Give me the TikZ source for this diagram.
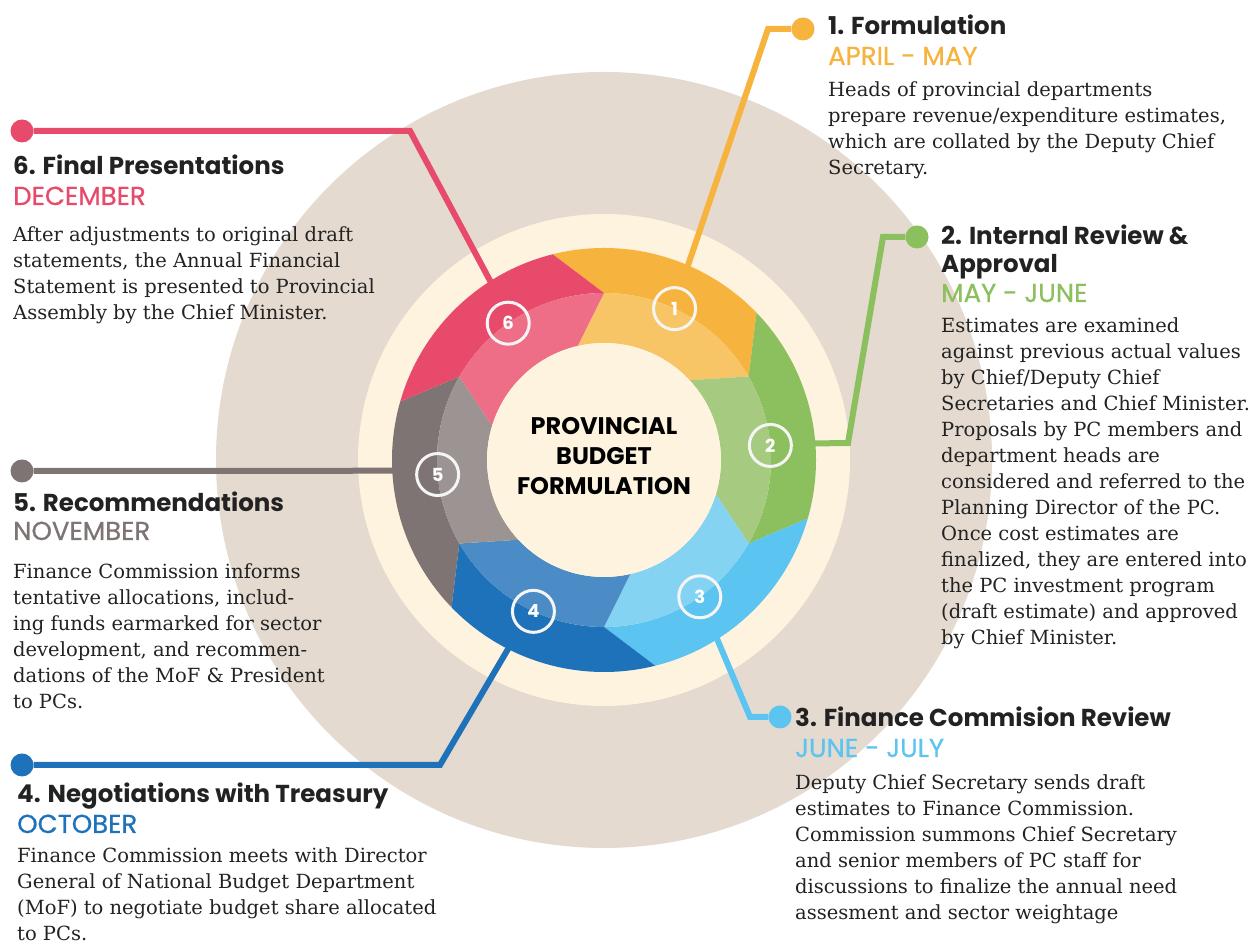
\documentclass[tikz,border=0pt]{standalone}
\usepackage{fontspec}
\setmainfont{DejaVu Serif}
\newfontfamily\headfont{Poppins}
\newfontfamily\monthfont[FakeBold=0.7]{Poppins}
\usetikzlibrary{calc}
\definecolor{beige}{HTML}{E4DAD0}
\definecolor{cream}{HTML}{FDF3DE}
\definecolor{ink}{HTML}{222222}
\definecolor{yelD}{HTML}{F6B43E}
\definecolor{yelL}{HTML}{F8C566}
\definecolor{grnD}{HTML}{8CBF5E}
\definecolor{grnL}{HTML}{A6CA80}
\definecolor{skyD}{HTML}{5BC4F1}
\definecolor{skyL}{HTML}{84D3F3}
\definecolor{bluD}{HTML}{1E72BA}
\definecolor{bluL}{HTML}{4B8CC6}
\definecolor{gryD}{HTML}{7E7474}
\definecolor{gryL}{HTML}{9C9393}
\definecolor{pnkD}{HTML}{E84A6B}
\definecolor{pnkL}{HTML}{EE6E88}

\begin{document}
\begin{tikzpicture}[x=1pt,y=1pt,
  wire/.style={line width=6pt,line join=miter},
  dot/.style={circle,inner sep=0pt,minimum size=23pt},
  num/.style={circle,draw=white!92!gray,line width=3pt,minimum size=42pt,inner sep=0pt,text=white,font=\headfont\bfseries\fontsize{18}{18}\selectfont},
  title/.style={anchor=base west,inner sep=0pt,align=left,text=ink,font=\headfont\bfseries\fontsize{24.5}{28}\selectfont},
  month/.style={anchor=base west,inner sep=0pt,font=\monthfont\fontsize{26}{26}\selectfont},
  body/.style={anchor=base west,inner sep=0pt,align=left,text=ink,font=\fontsize{19.5}{26}\selectfont}]
	\fill[white] (0,0) rectangle (1254,949);
	\useasboundingbox (0,0) rectangle (1254,949);
	\coordinate (c) at (604,489);
	\fill[beige] (c) circle[radius=388];
	\fill[cream] (c) circle[radius=246];

	\node(d1)[dot,fill=yelD] at (803,920) {};
	\coordinate (b1) at (768,920);
	\coordinate (e1) at ($(c)+(66.5:205)$);
	\node(d2)[dot,fill=grnD] at (917,712) {};
	\coordinate (b2) at (883,712);
	\coordinate (k2) at (848,506);
	\coordinate (e2) at ($(c)+(4.6:205)$);
	\node(d3)[dot,fill=skyD] at (780,232) {};
	\coordinate (b3) at (750,232);
	\coordinate (e3) at ($(c)+(-57.4:205)$);
	\node(d4)[dot,fill=bluD] at (22,184) {};
	\coordinate (b4) at (440,184);
	\coordinate (e4) at ($(c)+(-116.8:205)$);
	\node(d5)[dot,fill=gryD] at (22,478) {};
	\coordinate (e5) at ($(c)+(-177:205)$);
	\node(d6)[dot,fill=pnkD] at (22,818) {};
	\coordinate (b6) at (410,818);
	\coordinate (e6) at ($(c)+(122.6:205)$);

	\draw[wire,yelD] (d1) -- (b1) -- (e1);
	\draw[wire,grnD] (d2) -- (b2) -- (k2) -- (e2);
	\draw[wire,skyD] (d3) -- (b3) -- (e3);
	\draw[wire,bluD] (d4) -- (b4) -- (e4);
	\draw[wire,gryD] (d5) -- (e5);
	\draw[wire,pnkD] (d6) -- (b6) -- (e6);

	\foreach \i/\dk/\lt [evaluate=\i as \t using 90-60*(\i-1)] in
	  {1/yelD/yelL,2/grnD/grnL,3/skyD/skyL,4/bluD/bluL,5/gryD/gryL,6/pnkD/pnkL}{
	  \fill[\dk] ($(c)+(\t+14:212)$) arc[start angle=\t+14,end angle=\t-46,radius=212]
	    -- ($(c)+(\t-60:167)$) arc[start angle=\t-60,end angle=\t,radius=167] -- cycle;
	  \fill[\lt] ($(c)+(\t:167)$) arc[start angle=\t,end angle=\t-60,radius=167]
	    -- ($(c)+(\t-47:117)$) arc[start angle=\t-47,end angle=\t+13,radius=117] -- cycle;
	  \node(n\i)[num] at ($(c)+(\t-25:167)$) {\i};
	}
	\fill[cream] (c) circle[radius=117];
	\node(ctr)[align=center,text=black,font=\headfont\bfseries\fontsize{24}{30}\selectfont]
	  at ([yshift=4pt]c) {PROVINCIAL\\BUDGET\\FORMULATION};

	\node(t1)[title] at (828,914) {1. Formulation};
	\node(m1)[month,text=yelD] at ([yshift=-30pt]t1.base west) {APRIL - MAY};
	\node(p1)[body] at ([yshift=-110pt]m1.base west) {Heads of provincial departments\\
	  prepare revenue/expenditure estimates,\\which are collated by the Deputy Chief\\Secretary.};

	\node(t2)[title] at (941,676) {2. Internal Review \&\\Approval};
	\node(m2)[month,text=grnD] at ([yshift=-29pt]t2.base west) {MAY - JUNE};
	\node(p2)[body] at ([yshift=-343pt]m2.base west) {Estimates are examined\\
	  against previous actual values\\by Chief/Deputy Chief\\Secretaries and Chief Minister.\\
	  Proposals by PC members and\\department heads are\\considered and referred to the\\
	  Planning Director of the PC.\\Once cost estimates are\\finalized, they are entered into\\
	  the PC investment program\\(draft estimate) and approved\\by Chief Minister.};

	\node(t3)[title] at (795,222) {3. Finance Commision Review};
	\node(m3)[month,text=skyD] at ([yshift=-30pt]t3.base west) {JUNE - JULY};
	\node(p3)[body] at ([yshift=-163pt]m3.base west) {Deputy Chief Secretary sends draft\\
	  estimates to Finance Commission.\\Commission summons Chief Secretary\\
	  and senior members of PC staff for\\discussions to finalize the annual need\\
	  assesment and sector weightage};

	\node(t4)[title] at (17,146) {4. Negotiations with Treasury};
	\node(m4)[month,text=bluD] at ([yshift=-30pt]t4.base west) {OCTOBER};
	\node(p4)[body] at ([yshift=-108pt]m4.base west) {Finance Commission meets with Director\\
	  General of National Budget Department\\(MoF) to negotiate budget share allocated\\to PCs.};

	\node(t5)[title] at (13,437) {5. Recommendations};
	\node(m5)[month,text=gryD] at ([yshift=-28pt]t5.base west) {NOVEMBER};
	\node(p5)[body] at ([yshift=-169pt]m5.base west) {Finance Commission informs\\
	  tentative allocations, includ-\\ing funds earmarked for sector\\
	  development, and recommen-\\dations of the MoF \& President\\to PCs.};

	\node(t6)[title] at (13,774) {6. Final Presentations};
	\node(m6)[month,text=pnkD] at ([yshift=-30pt]t6.base west) {DECEMBER};
	\node(p6)[body] at ([yshift=-115pt]m6.base west) {After adjustments to original draft\\
	  statements, the Annual Financial\\Statement is presented to Provincial\\
	  Assembly by the Chief Minister.};
\end{tikzpicture}
\end{document}
